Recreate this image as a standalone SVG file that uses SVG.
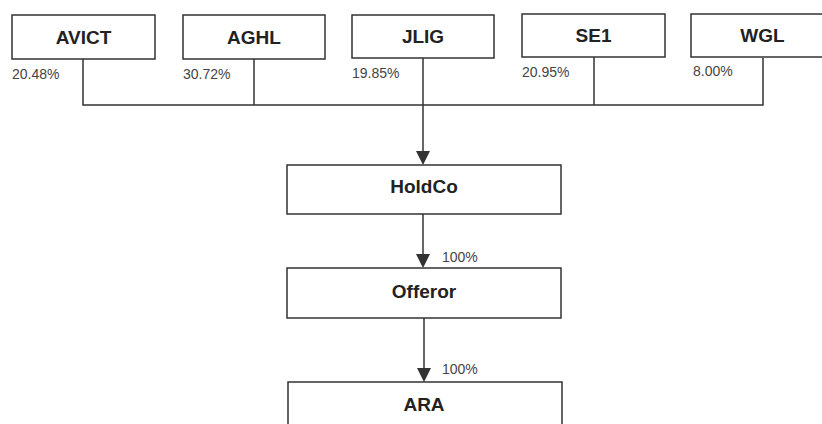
<svg xmlns="http://www.w3.org/2000/svg" width="822" height="424" viewBox="0 0 822 424">
<style>
.box{fill:#fff;stroke:#333;stroke-width:1.5}
.lbl{font-family:"Liberation Sans",Arial,sans-serif;font-weight:bold;font-size:19px;fill:#222;text-anchor:middle}
.pct{font-family:"Liberation Sans",Arial,sans-serif;font-size:14px;fill:#444}
.ln{fill:none;stroke:#333;stroke-width:1.5}
</style>
<defs>
<marker id="arr" viewBox="0 0 14 14" refX="7" refY="14" markerWidth="14" markerHeight="14" markerUnits="userSpaceOnUse" orient="auto-start-reverse">
<path d="M0,0 L14,0 L7,14 Z" fill="#333"/>
</marker>
</defs>
<rect width="822" height="424" fill="#fff"/>
<g id="connectors">
<path class="ln" d="M83,59 V105 H763 V58"/>
<path class="ln" d="M254,59 V105"/>
<path class="ln" d="M594,57 V105"/>
<path class="ln" d="M423,58 V151"/>
<path d="M416,151 L430,151 L423,165 Z" fill="#333"/>
<path class="ln" d="M423,214 V254"/>
<path d="M416,254 L430,254 L423,268 Z" fill="#333"/>
<path class="ln" d="M424,318 V368"/>
<path d="M417,368 L431,368 L424,382 Z" fill="#333"/>
<text class="pct" x="442" y="262">100%</text>
<text class="pct" x="442" y="374">100%</text>
</g>
<g id="AVICT"><rect class="box" x="12" y="15" width="143" height="44"/><text class="lbl" x="83.5" y="44">AVICT</text><text class="pct" x="12" y="79">20.48%</text></g>
<g id="AGHL"><rect class="box" x="183" y="15" width="142" height="44"/><text class="lbl" x="254" y="44">AGHL</text><text class="pct" x="183" y="79">30.72%</text></g>
<g id="JLIG"><rect class="box" x="352" y="15" width="142" height="43"/><text class="lbl" x="423" y="43">JLIG</text><text class="pct" x="352" y="78">19.85%</text></g>
<g id="SE1"><rect class="box" x="522" y="14" width="143" height="43"/><text class="lbl" x="593.5" y="42">SE1</text><text class="pct" x="522" y="77">20.95%</text></g>
<g id="WGL"><rect class="box" x="691" y="14" width="143" height="43"/><text class="lbl" x="762.5" y="42">WGL</text><text class="pct" x="693" y="76">8.00%</text></g>
<g id="HoldCo"><rect class="box" x="287" y="165" width="274" height="49"/><text class="lbl" x="424" y="193">HoldCo</text></g>
<g id="Offeror"><rect class="box" x="287" y="268" width="274" height="50"/><text class="lbl" x="424" y="298">Offeror</text></g>
<g id="ARA"><rect class="box" x="288" y="382" width="274" height="50"/><text class="lbl" x="424" y="411">ARA</text></g>
</svg>
